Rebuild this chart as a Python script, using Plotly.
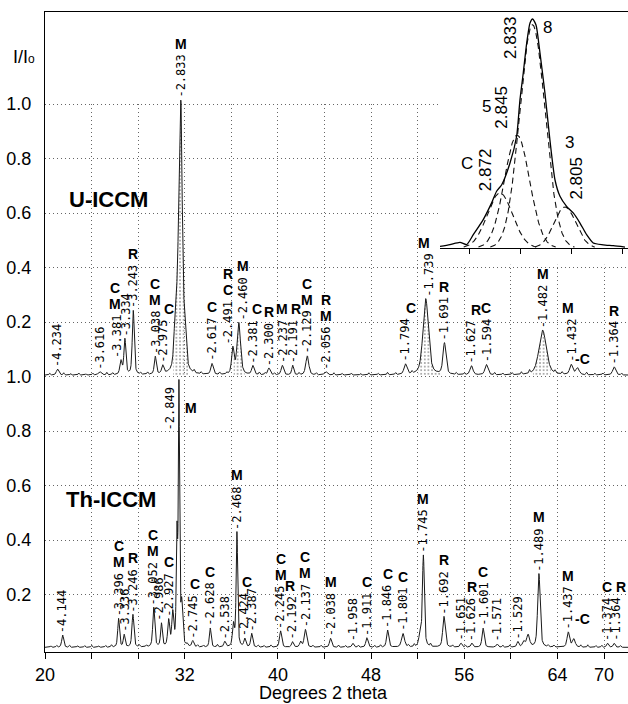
import numpy as np
import plotly.graph_objects as go

# ------------------------------------------------------------------ data
# U-ICCM pattern (drawn with a +1.0 offset): peak 2-theta, relative height, FWHM
u_offset = 1.0
u_background = 0.005
u_peak_2theta = [21.08, 24.70, 26.52, 26.86, 27.58, 29.47, 30.11, 31.22, 31.50, 31.68,
                 31.98, 34.34, 36.13, 36.64, 37.85, 39.23, 40.38, 41.27, 42.52, 44.11,
                 50.95, 52.69, 54.30, 56.62, 57.90, 62.73, 65.18, 65.72, 68.87]
u_peak_int = [0.022, 0.012, 0.05, 0.13, 0.235, 0.065, 0.03, 0.20, 0.40, 0.83,
              0.15, 0.04, 0.095, 0.19, 0.033, 0.025, 0.035, 0.035, 0.07, 0.012,
              0.038, 0.28, 0.115, 0.033, 0.038, 0.165, 0.037, 0.025, 0.03]
u_peak_fwhm = [0.25, 0.3, 0.22, 0.2, 0.2, 0.2, 0.22, 0.3, 0.28, 0.26,
               0.3, 0.25, 0.25, 0.35, 0.25, 0.25, 0.25, 0.2, 0.3, 0.3,
               0.3, 0.55, 0.3, 0.3, 0.3, 0.75, 0.3, 0.35, 0.3]
u_minor_2theta = [20.4, 21.6, 22.2, 22.9, 23.5, 24.1, 25.3, 25.8, 28.2, 28.8,
                  32.8, 33.4, 35.0, 35.6, 38.4, 38.9, 39.7, 41.8, 43.3, 44.8,
                  45.5, 46.3, 47.1, 47.8, 48.6, 49.4, 50.1, 51.5, 55.3, 56.0,
                  58.6, 59.3, 60.1, 60.9, 61.6, 63.8, 64.4, 66.5, 67.2, 67.9, 69.5]
u_minor_int = [0.006, 0.008, 0.005, 0.007, 0.004, 0.006, 0.009, 0.007, 0.006, 0.008,
               0.010, 0.007, 0.008, 0.006, 0.009, 0.007, 0.006, 0.008, 0.007, 0.008,
               0.006, 0.007, 0.005, 0.008, 0.006, 0.009, 0.007, 0.008, 0.007, 0.006,
               0.008, 0.006, 0.007, 0.009, 0.012, 0.010, 0.008, 0.009, 0.006, 0.007, 0.006]
u_fill_ranges = [(31.0, 32.3), (36.2, 37.15), (52.06, 54.07), (61.9, 63.45)]

# Th-ICCM pattern
t_background = 0.006
t_peak_2theta = [21.52, 26.32, 26.80, 27.55, 29.34, 30.00, 30.62, 30.97, 31.33, 31.50,
                 31.74, 32.69, 34.19, 35.44, 36.18, 36.48, 37.16, 37.75, 40.23, 41.25,
                 41.95, 42.36, 44.52, 46.43, 47.64, 49.42, 50.74, 52.20, 52.49, 54.26,
                 55.72, 56.65, 57.62, 58.82, 60.60, 61.10, 61.48, 62.41, 64.93, 65.40,
                 68.30, 68.87]
t_peak_int = [0.045, 0.105, 0.045, 0.12, 0.145, 0.085, 0.095, 0.12, 0.40, 0.935,
              0.15, 0.022, 0.07, 0.02, 0.08, 0.42, 0.03, 0.05, 0.06, 0.02,
              0.02, 0.065, 0.033, 0.015, 0.035, 0.063, 0.05, 0.04, 0.335, 0.113,
              0.015, 0.015, 0.07, 0.012, 0.02, 0.02, 0.045, 0.27, 0.055, 0.03,
              0.015, 0.015]
t_peak_fwhm = [0.2, 0.18, 0.18, 0.2, 0.2, 0.18, 0.2, 0.2, 0.14, 0.12,
               0.2, 0.2, 0.18, 0.2, 0.2, 0.16, 0.2, 0.2, 0.22, 0.2,
               0.2, 0.25, 0.22, 0.2, 0.22, 0.22, 0.3, 0.25, 0.2, 0.25,
               0.2, 0.2, 0.22, 0.2, 0.2, 0.25, 0.3, 0.25, 0.25, 0.3,
               0.2, 0.2]
t_minor_2theta = [20.5, 21.0, 22.1, 22.8, 23.4, 24.0, 24.6, 25.2, 25.7, 28.1,
                  28.7, 32.2, 33.1, 33.6, 34.8, 38.3, 38.8, 39.4, 43.0, 43.7,
                  45.2, 45.8, 46.9, 48.3, 48.8, 51.2, 51.7, 53.1, 55.0, 56.1,
                  59.3, 59.9, 63.2, 63.7, 66.0, 66.6, 67.3, 67.8, 69.4]
t_minor_int = [0.005, 0.006, 0.007, 0.005, 0.006, 0.007, 0.005, 0.006, 0.008, 0.007,
               0.006, 0.008, 0.007, 0.006, 0.009, 0.007, 0.006, 0.008, 0.006, 0.007,
               0.008, 0.006, 0.007, 0.006, 0.008, 0.007, 0.009, 0.010, 0.007, 0.006,
               0.007, 0.008, 0.006, 0.007, 0.008, 0.009, 0.006, 0.007, 0.006]

# peak labels (d-spacing in Angstrom) and phase letters (top to bottom)
u_lab_d = ["4.234", "3.616", "3.381", "3.334", "3.243", "3.038", "2.975", "2.833", "2.617", "2.491",
           "2.460", "2.381", "2.300", "2.237", "2.191", "2.129", "2.056", "1.794", "1.739", "1.691",
           "1.627", "1.594", "1.482", "1.432", "1.364"]
u_lab_2theta = [21.08, 24.70, 26.52, 26.86, 27.58, 29.47, 30.11, 31.68, 34.34, 36.13,
                36.64, 37.85, 39.23, 40.38, 41.27, 42.52, 44.11, 50.95, 52.69, 54.30,
                56.62, 57.90, 62.73, 65.18, 68.87]
u_lab_phase = ["", "", "CM", "", "R", "CM", "C", "M", "C", "RC",
               "M", "C", "R", "M", "R", "CM", "RM", "C", "M", "R",
               "R", "C", "M", "M", "R"]
u_ctag_2theta = 65.72

t_lab_d = ["4.144", "3.396", "3.336", "3.246", "3.052", "2.986", "2.927", "2.745", "2.628", "2.538",
           "2.468", "2.424", "2.387", "2.245", "2.192", "2.137", "2.038", "1.958", "1.911", "1.846",
           "1.801", "1.745", "1.692", "1.651", "1.626", "1.601", "1.571", "1.529", "1.489", "1.437",
           "1.374", "1.364"]
t_lab_2theta = [21.52, 26.32, 26.80, 27.55, 29.34, 30.00, 30.62, 32.69, 34.19, 35.44,
                36.48, 37.16, 37.75, 40.23, 41.25, 42.36, 44.52, 46.43, 47.64, 49.42,
                50.74, 52.49, 54.26, 55.72, 56.65, 57.62, 58.82, 60.60, 62.41, 64.93,
                68.30, 68.87]
t_lab_phase = ["", "CM", "", "R", "CM", "", "C", "C", "C", "",
               "M", "C", "", "CM", "R", "CM", "M", "", "C", "C",
               "C", "M", "R", "", "R", "C", "", "", "M", "M",
               "C", "R"]
t_main_d = "2.849"
t_main_phase = "M"
t_ctag_2theta = 65.40

# inset: deconvolution of the strongest U-ICCM reflection
inset_comp_d = ["2.872", "2.845", "2.833", "2.805"]
inset_comp_tag = ["C", "5", "8", "3"]
inset_comp_2theta = [31.235, 31.369, 31.490, 31.745]
inset_comp_int = [0.24, 0.493, 0.975, 0.179]
inset_comp_sigma = [0.100, 0.098, 0.100, 0.086]
inset_obs_2theta = [30.765, 30.843, 30.922, 30.974, 31.026, 31.104, 31.170, 31.209, 31.249, 31.314,
                    31.366, 31.392, 31.418, 31.445, 31.471, 31.492, 31.518, 31.549, 31.588, 31.627,
                    31.667, 31.706, 31.758, 31.810, 31.863, 31.915, 31.967, 32.045, 32.124, 32.216]
inset_obs_int = [0.007, 0.015, 0.025, 0.015, 0.058, 0.124, 0.197, 0.248, 0.276, 0.371,
                 0.488, 0.646, 0.764, 0.895, 0.983, 1.000, 0.974, 0.852, 0.677, 0.472,
                 0.297, 0.226, 0.182, 0.153, 0.109, 0.058, 0.022, 0.014, 0.010, 0.004]

xtick_vals = [20, 24, 28, 32, 36, 40, 44, 48, 52, 56, 60, 64, 68]
xtick_text = ["20", "", "", "32", "", "40", "", "48", "", "56", "", "64", "70"]
ytick_vals = [0.2, 0.4, 0.6, 0.8, 1.0, 1.2, 1.4, 1.6, 1.8, 2.0]
ytick_text = ["0.2", "0.4", "0.6", "0.8", "1.0", "0.2", "0.4", "0.6", "0.8", "1.0"]

# ------------------------------------------------------------------ layout constants
W, H = 628, 704
ML, MR, MT, MB = 45, 0, 12, 52
PX_PER_DEG = 11.646
PX_PER_UNIT = 272.5
X0 = 20.0
X1 = X0 + (W - ML - MR) / PX_PER_DEG
Y0 = -0.011
Y1 = Y0 + (H - MT - MB) / PX_PER_UNIT
MONO = "DejaVu Sans Mono, monospace"
SANS = "Liberation Sans, Arial, Helvetica, sans-serif"
LABEL_PX = 44
LETTER_GAP = 11
LETTER_STEP = 16
GRID = dict(showgrid=True, gridcolor="#666", griddash="1px,3px", gridwidth=1)
u_lab_dx = {"3.381": -4, "3.334": 1, "1.739": 3, "2.491": -5, "2.460": 4}
u_let_dx = {"3.381": -2, "2.975": 6, "2.381": 4, "2.191": 3, "1.794": 6, "1.739": -5,
            "1.627": 5, "1.432": -3}
t_lab_dx = {"3.052": -1, "2.986": -2, "1.374": -1, "1.364": 1}
t_let_dx = {"2.745": 2, "2.424": 2, "1.364": 6, "2.192": -2}

# ------------------------------------------------------------------ profiles
tt = np.linspace(X0, X1, 5007)


def pseudo_voigt(x, c, h, w, eta):
    q = ((x - c) / w) ** 2
    return h * (eta / (1 + 4 * q) + (1 - eta) * np.exp(-4 * np.log(2) * q))


def profile(base, pos, inten, fwhm, mpos, minten):
    y = np.full_like(tt, base)
    for c, h, w in zip(pos, inten, fwhm):
        y = y + pseudo_voigt(tt, c, h, w, 0.5)
    for c, h in zip(mpos, minten):
        y = y + pseudo_voigt(tt, c, h, 0.12, 0.0)
    return y


yu = profile(u_offset + u_background, u_peak_2theta, u_peak_int, u_peak_fwhm, u_minor_2theta, u_minor_int)
yt = profile(t_background, t_peak_2theta, t_peak_int, t_peak_fwhm, t_minor_2theta, t_minor_int)


def local_max(y, x0, half=0.07):
    m = np.abs(tt - x0) < half
    return float(y[m].max())


fig = go.Figure()
LINE = "#1a1a1a"

# dotted fill under the main U-ICCM reflections
for a, b in u_fill_ranges:
    m = (tt >= a) & (tt <= b)
    fig.add_trace(go.Scatter(x=tt[m], y=np.full(m.sum(), u_offset + u_background), mode="lines",
                             line=dict(width=0), hoverinfo="skip", showlegend=False))
    fig.add_trace(go.Scatter(x=tt[m], y=yu[m], mode="lines", line=dict(width=0), fill="tonexty",
                             fillcolor="rgba(0,0,0,0)",
                             fillpattern=dict(shape=".", size=3.6, solidity=0.22, fgcolor="#333",
                                              bgcolor="rgba(0,0,0,0)", fillmode="overlay"),
                             hoverinfo="skip", showlegend=False))

fig.add_trace(go.Scatter(x=tt, y=yu, mode="lines", line=dict(color=LINE, width=1), showlegend=False))
fig.add_trace(go.Scatter(x=tt, y=yt, mode="lines", line=dict(color=LINE, width=1), showlegend=False))

# inset traces
xi = np.linspace(30.765, 32.24, 700)
for c, h, s in zip(inset_comp_2theta, inset_comp_int, inset_comp_sigma):
    yi = h * np.exp(-0.5 * ((xi - c) / s) ** 2)
    yi = np.where(yi > 0.004, yi, np.nan)
    fig.add_trace(go.Scatter(x=xi, y=yi, mode="lines", xaxis="x2", yaxis="y2",
                             line=dict(color="#111", width=1.1, dash="6px,4px"), showlegend=False))
fig.add_trace(go.Scatter(x=inset_obs_2theta, y=inset_obs_int, mode="lines", xaxis="x2", yaxis="y2",
                         line=dict(color="#000", width=1.3, shape="spline", smoothing=0.6),
                         showlegend=False))

# ------------------------------------------------------------------ annotations
ann = []


def d_label(x, y, text, xshift=0, xref="x", yref="y", size=12, family=MONO, dash=True):
    ann.append(dict(x=x, y=y, xref=xref, yref=yref, text=("-" if dash else "") + text,
                    textangle=-90, showarrow=False, xanchor="center", yanchor="bottom",
                    xshift=xshift, borderpad=0, font=dict(family=family, size=size, color="#000")))


def letter(x, y, ch, xshift=0, yshift=0, xref="x", yref="y", size=14, bold=True, xanchor="center"):
    ann.append(dict(x=x, y=y, xref=xref, yref=yref, text=("<b>%s</b>" % ch) if bold else ch,
                    showarrow=False, xanchor=xanchor, yanchor="middle", xshift=xshift, yshift=yshift,
                    borderpad=0, font=dict(family=SANS, size=size, color="#000")))


def label_set(y, ds, xs, phases, lab_dx, let_dx):
    for d, x, ph in zip(ds, xs, phases):
        base = local_max(y, x) + 0.004
        dx = lab_dx.get(d, 0)
        d_label(x, base, d, xshift=dx)
        for i, ch in enumerate(reversed(ph)):
            letter(x, base, ch, xshift=dx + let_dx.get(d, 0),
                   yshift=LABEL_PX + LETTER_GAP + i * LETTER_STEP)


label_set(yu, u_lab_d, u_lab_2theta, u_lab_phase, u_lab_dx, u_let_dx)
label_set(yt, t_lab_d, t_lab_2theta, t_lab_phase, t_lab_dx, t_let_dx)

# strongest Th-ICCM reflection: label beside the peak
d_label(30.73, 0.80, t_main_d)
letter(32.57, 0.884, t_main_phase)
# small C reflections near 65-66 degrees
letter(u_ctag_2theta, local_max(yu, u_ctag_2theta), "-C", xshift=-3, yshift=9, xanchor="left")
letter(t_ctag_2theta, local_max(yt, t_ctag_2theta), "-C", xshift=0, yshift=20, xanchor="left")

# inset labels
inset_lab_pos = [(31.118, 0.34), (31.249, 0.616), (31.314, 0.917), (31.837, 0.306)]
inset_tag_pos = [(30.974, 0.371), (31.133, 0.616), (31.612, 0.961), (31.784, 0.459)]
for d, (x, y) in zip(inset_comp_d, inset_lab_pos):
    ann.append(dict(x=x, y=y, xref="x2", yref="y2", text=d, textangle=-90, showarrow=False,
                    xanchor="center", yanchor="middle", font=dict(family=SANS, size=17, color="#000")))
for t, (x, y) in zip(inset_comp_tag, inset_tag_pos):
    ann.append(dict(x=x, y=y, xref="x2", yref="y2", text=t, showarrow=False,
                    xanchor="center", yanchor="middle", font=dict(family=SANS, size=17, color="#000")))

# sample names, axis titles
ann.append(dict(x=25.48, y=1.651, xref="x", yref="y", text="<b>U-ICCM</b>", showarrow=False,
                font=dict(family=SANS, size=22, color="#000")))
ann.append(dict(x=25.65, y=0.547, xref="x", yref="y", text="<b>Th-ICCM</b>", showarrow=False,
                font=dict(family=SANS, size=22, color="#000")))
ann.append(dict(x=(24 - ML) / (W - ML - MR), y=(H - MB - 57) / (H - MT - MB), xref="paper", yref="paper",
                text="I/I<span style='font-size:12px'>o</span>", showarrow=False,
                xanchor="center", yanchor="middle", font=dict(family=SANS, size=18, color="#000")))
ann.append(dict(x=(323 - ML) / (W - ML - MR), y=-41 / (H - MT - MB), xref="paper", yref="paper",
                text="Degrees 2 theta", showarrow=False, xanchor="center", yanchor="middle",
                font=dict(family=SANS, size=18, color="#000")))

# white masks hiding grid lines above 2.0 and behind the inset
inset_left_deg = X0 + (443 - ML) / PX_PER_DEG
shapes = [
    dict(type="rect", xref="x", yref="y", x0=X0, x1=X1, y0=2.006, y1=Y1 + 0.01, layer="between",
         fillcolor="white", line=dict(width=0)),
    dict(type="rect", xref="x", yref="y", x0=inset_left_deg, x1=X1, y0=1.41, y1=2.01, layer="between",
         fillcolor="white", line=dict(width=0)),
]

inset_x_dom = [(440 - ML) / (W - ML - MR), 1.0]
inset_y_dom = [(H - MB - 248) / (H - MT - MB), 1.0]

fig.update_layout(
    width=W, height=H,
    margin=dict(l=ML, r=MR, t=MT, b=MB, pad=0),
    paper_bgcolor="white", plot_bgcolor="white",
    showlegend=False,
    annotations=ann,
    shapes=shapes,
    xaxis=dict(range=[X0, X1], tickvals=xtick_vals, ticktext=xtick_text, ticks="outside", ticklen=6,
               tickcolor="#000", tickwidth=1, showline=True, linecolor="#000", linewidth=1, mirror=True,
               zeroline=False, tickfont=dict(family=SANS, size=18, color="#000"), **GRID),
    yaxis=dict(range=[Y0, Y1], tickvals=ytick_vals, ticktext=ytick_text, ticks="", showline=True,
               linecolor="#000", linewidth=1, zeroline=False, ticklabelstandoff=9,
               tickfont=dict(family=SANS, size=18, color="#000"), **GRID),
    xaxis2=dict(domain=inset_x_dom, anchor="y2", range=[30.765, 30.765 + 188 / 127.5],
                tickvals=[31.0, 31.4, 31.8, 32.2], showticklabels=False, ticks="outside", ticklen=5,
                tickcolor="#000", showline=True, linecolor="#000", linewidth=1, showgrid=False,
                zeroline=False),
    yaxis2=dict(domain=inset_y_dom, anchor="x2", range=[0, 236 / 229], visible=False),
)

fig.write_html("out.html", config={"displayModeBar": False},
               post_script="document.body.style.margin='0';document.body.style.overflow='hidden';")
